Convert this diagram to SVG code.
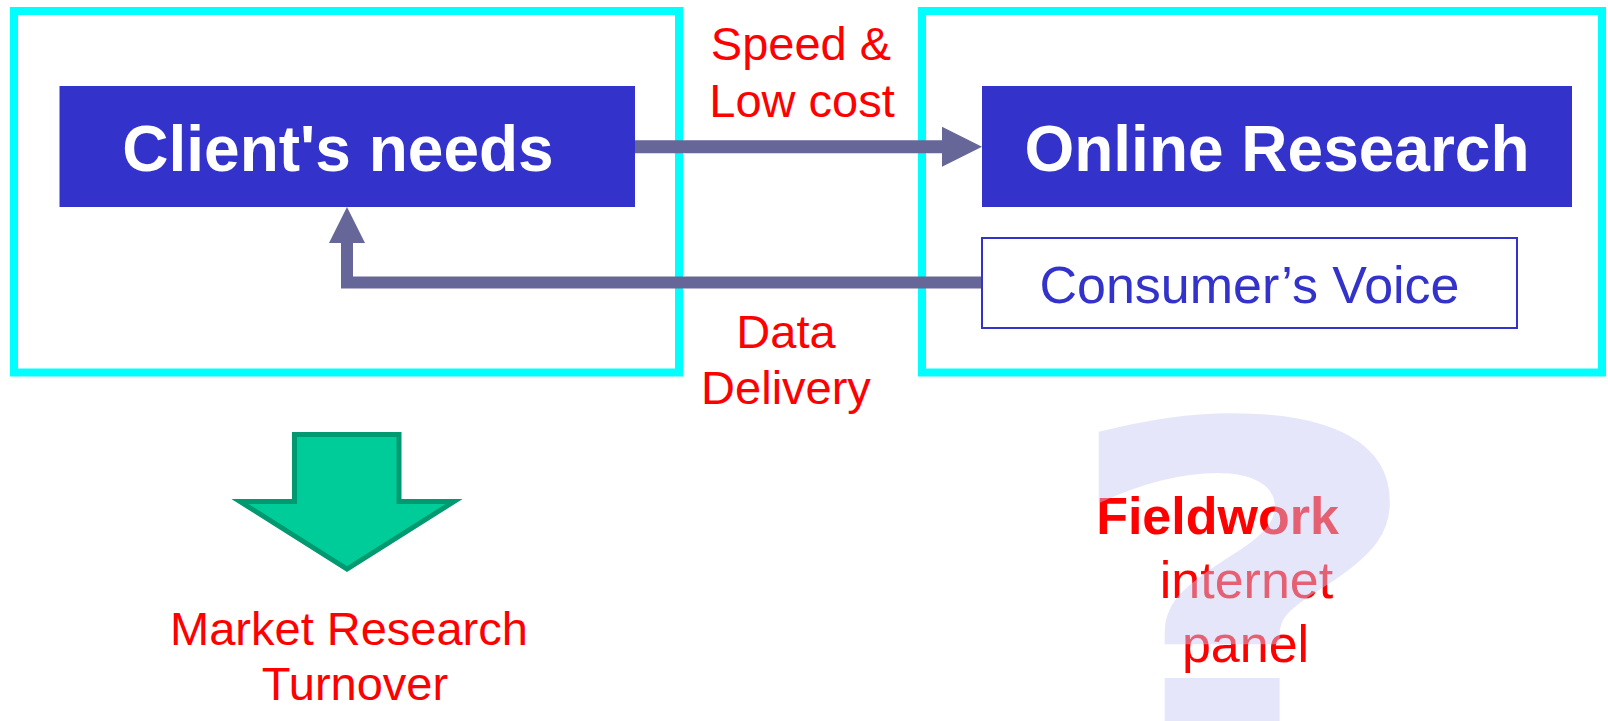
<svg xmlns="http://www.w3.org/2000/svg" width="1608" height="721" viewBox="0 0 1608 721">
<defs>
<style>
.frame{fill:none;stroke:#00FFFF;stroke-width:8}
.node{fill:#3333CC}
.ntext{font-family:"Liberation Sans",Arial,sans-serif;font-weight:bold;font-size:64px;fill:#FFFFFF;text-anchor:middle}
.voice{fill:#FFFFFF;stroke:#3333CC;stroke-width:2}
.vtext{font-family:"Liberation Sans",Arial,sans-serif;font-size:52px;fill:#3333CC;text-anchor:middle}
.red{font-family:"Liberation Sans",Arial,sans-serif;font-size:47px;fill:#FF0000;text-anchor:middle}
.red52{font-family:"Liberation Sans",Arial,sans-serif;font-size:52px;fill:#FF0000;text-anchor:middle}
.shaft{fill:none;stroke:#666699;stroke-width:13}
.head{fill:#666699}
</style>
</defs>
<rect width="1608" height="721" fill="#FFFFFF"/>
<g id="frame-left"><rect class="frame" x="14" y="11" width="665" height="361.5"/></g>
<g id="frame-right"><rect class="frame" x="922" y="11" width="680" height="361.5"/></g>
<g id="node-client"><rect class="node" x="59.5" y="86" width="575.5" height="121"/><text class="ntext" x="338" y="170.5">Client's needs</text></g>
<g id="node-online"><rect class="node" x="982" y="86" width="590" height="121"/><text class="ntext" x="1277" y="170.5">Online Research</text></g>
<g id="node-consumer"><rect class="voice" x="982" y="238" width="535" height="90"/><text class="vtext" x="1249.5" y="303">Consumer’s Voice</text></g>
<g id="connectors">
<line class="shaft" x1="635" y1="146.7" x2="943" y2="146.7"/>
<polygon class="head" points="942,126.7 942,166.7 982,146.7"/>
<polyline class="shaft" style="stroke-width:12" points="981,282.5 347,282.5 347,242"/>
<polygon class="head" points="329,243 365,243 347,207"/>
</g>
<g id="label-speed"><text class="red" x="801" y="60">Speed &amp;</text><text class="red" x="802" y="117">Low cost</text></g>
<g id="label-data"><text class="red" x="786" y="347.5">Data</text><text class="red" x="786" y="404">Delivery</text></g>
<g id="turnover-arrow"><polygon points="294.5,434.5 399,434.5 399,501.5 454,501.5 347,569 240,501.5 294.5,501.5" fill="#00CC99" stroke="#009970" stroke-width="5"/></g>
<g id="label-turnover"><text class="red" x="349" y="645">Market Research</text><text class="red" x="355" y="700">Turnover</text></g>
<g id="fieldwork">
<text class="red52" x="1217.5" y="534.3" font-weight="bold">Fieldwork</text>
<text class="red52" x="1246.5" y="598.3">internet</text>
<text class="red52" x="1245.5" y="661.7">panel</text>
<text x="0" y="0" transform="translate(1243,759) scale(1.4,1)" font-family="DejaVu Sans" font-weight="bold" font-size="466" text-anchor="middle" fill="#CCCCF5" opacity="0.47">?</text>
</g>
</svg>
